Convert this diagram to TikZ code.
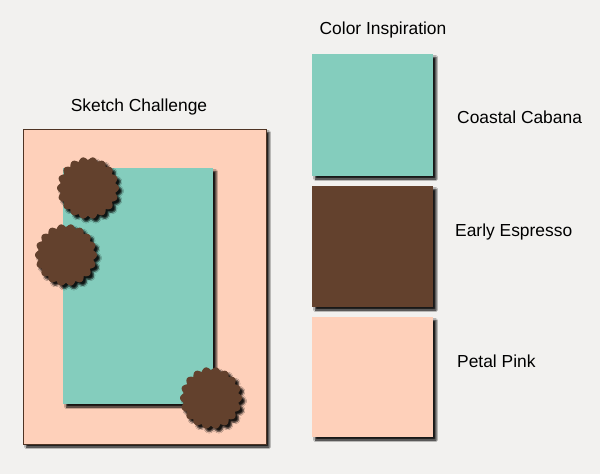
\documentclass[tikz,border=0pt]{standalone}
\usepackage{fontspec}
\setmainfont{Liberation Sans}
\usetikzlibrary{shadows.blur}
\definecolor{paper}{RGB}{242, 241, 239}
\definecolor{cabana}{RGB}{132, 205, 189}
\definecolor{espresso}{RGB}{99, 65, 45}
\definecolor{petal}{RGB}{254, 208, 186}

\tikzset{
	dropshade/.style={blur shadow={shadow xshift=3pt, shadow yshift=-3pt, shadow blur radius=1.5pt, shadow opacity=90}},
	swatchtext/.style={font=\fontsize{17.4}{20}\selectfont, inner sep=0pt}
}

\begin{document}
\begin{tikzpicture}[x=1pt, y=-1pt]
			\fill [paper] (0, 0) rectangle (600, 474);
			\useasboundingbox (0, 0) rectangle (600, 474);
			% sketch
			\node [swatchtext] (sketchtitle) at (139, 107) {Sketch Challenge};
			\filldraw [draw=espresso!80!black, line width=1pt, fill=petal, dropshade] (23, 129) rectangle (266, 444);
			\fill [cabana, dropshade] (63, 168) rectangle (213, 404);
			\fill [espresso, dropshade] plot [domain=0:360, samples=361] ([shift={(88, 188)}]\x:{27.5+3.5*abs(cos(9*\x))});
			\fill [espresso, dropshade] plot [domain=0:360, samples=361] ([shift={(66, 255)}]\x:{27.5+3.5*abs(cos(9*\x))});
			\fill [espresso, dropshade] plot [domain=0:360, samples=361] ([shift={(211, 398)}]\x:{27.5+3.5*abs(cos(9*\x))});
			% colours
			\node [swatchtext] (colortitle) at (383, 30) {Color Inspiration};
			\fill [cabana, dropshade] (312, 54) rectangle (433, 176);
			\fill [espresso, dropshade] (312, 186) rectangle (433, 307);
			\fill [petal, dropshade] (312, 317) rectangle (433, 437);
			\node [swatchtext, anchor=west] (cabananame) at (457, 117) {Coastal Cabana};
			\node [swatchtext, anchor=west] (espressoname) at (455, 232) {Early Espresso};
			\node [swatchtext, anchor=west] (petalname) at (457, 361) {Petal Pink};
		\end{tikzpicture}
\end{document}
